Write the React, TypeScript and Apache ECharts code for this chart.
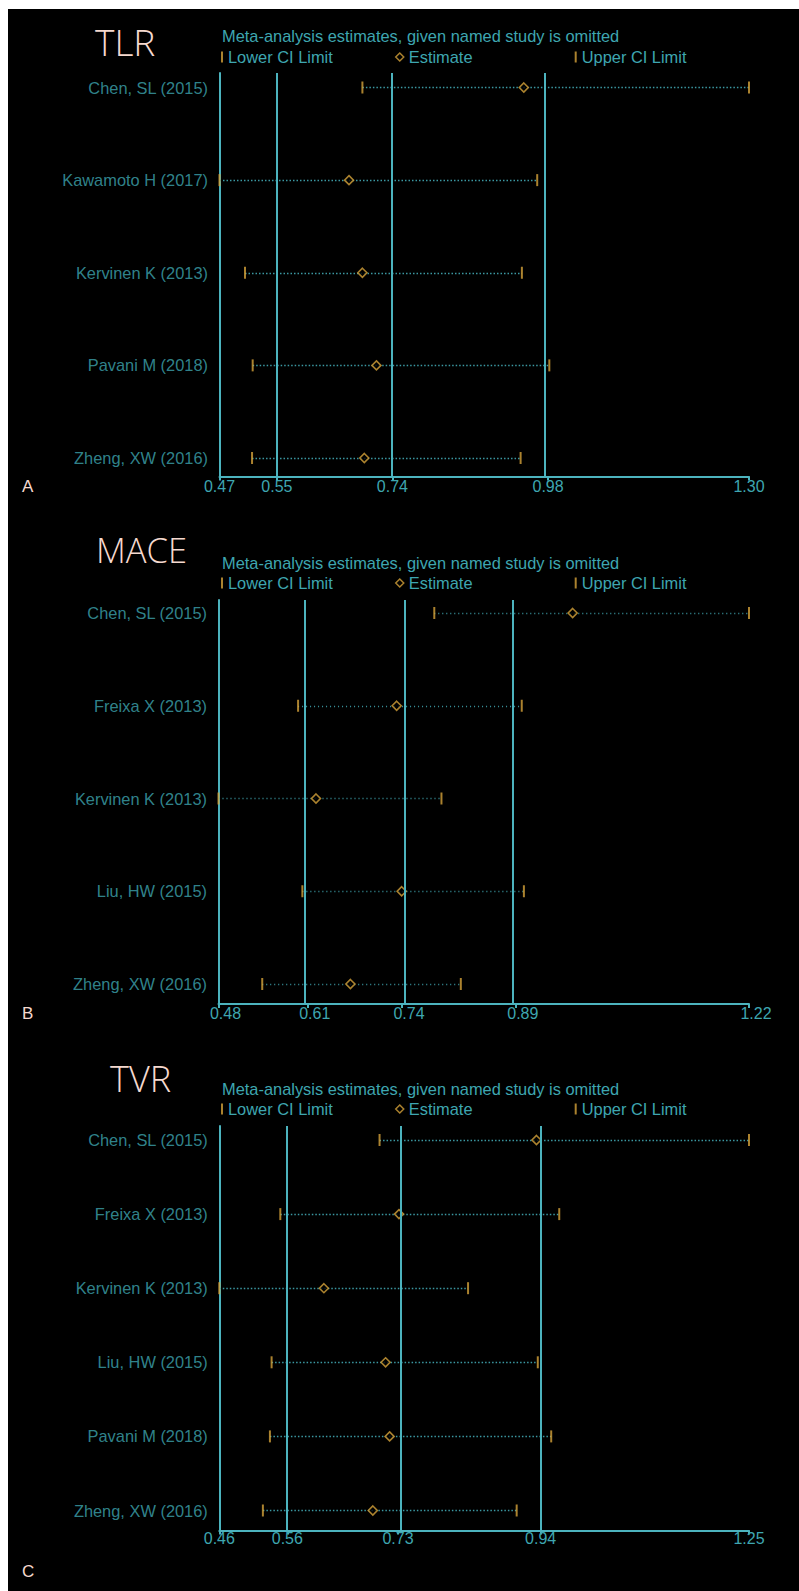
import React, { useEffect, useRef } from "react";
import * as echarts from "echarts";

// ---------------- data ----------------
const tlrStudies = ["Chen, SL (2015)", "Kawamoto H (2017)", "Kervinen K (2013)", "Pavani M (2018)", "Zheng, XW (2016)"];
const tlrLower = [0.694, 0.47, 0.51, 0.522, 0.521];
const tlrEstimate = [0.947, 0.673, 0.694, 0.716, 0.697];
const tlrUpper = [1.3, 0.968, 0.944, 0.987, 0.942];
const tlrOverall = [0.56, 0.741, 0.985]; // pooled lower CI, estimate, upper CI
const tlrRange = [0.47, 1.3];
const tlrTickValues = [0.47, 0.56, 0.741, 0.985, 1.3];
const tlrTickLabels = ["0.47", "0.55", "0.74", "0.98", "1.30"];

const maceStudies = ["Chen, SL (2015)", "Freixa X (2013)", "Kervinen K (2013)", "Liu, HW (2015)", "Zheng, XW (2016)"];
const maceLower = [0.781, 0.591, 0.48, 0.597, 0.541];
const maceEstimate = [0.974, 0.7285, 0.616, 0.7355, 0.664];
const maceUpper = [1.22, 0.903, 0.791, 0.906, 0.818];
const maceOverall = [0.6045, 0.736, 0.8947];
const maceRange = [0.48, 1.22];
const maceTickValues = [0.48, 0.6045, 0.736, 0.8947, 1.22];
const maceTickLabels = ["0.48", "0.61", "0.74", "0.89", "1.22"];

const tvrStudies = ["Chen, SL (2015)", "Freixa X (2013)", "Kervinen K (2013)", "Liu, HW (2015)", "Pavani M (2018)", "Zheng, XW (2016)"];
const tvrLower = [0.699, 0.551, 0.46, 0.538, 0.5355, 0.525];
const tvrEstimate = [0.933, 0.728, 0.616, 0.708, 0.714, 0.689];
const tvrUpper = [1.25, 0.967, 0.831, 0.935, 0.955, 0.9035];
const tvrOverall = [0.5614, 0.7265, 0.9393];
const tvrRange = [0.46, 1.25];
const tvrTickValues = [0.46, 0.5614, 0.7265, 0.9393, 1.25];
const tvrTickLabels = ["0.46", "0.56", "0.73", "0.94", "1.25"];

const subtitleText = "Meta-analysis estimates, given named study is omitted";
const legendNames = ["Lower CI Limit", "Estimate", "Upper CI Limit"];

// ---------------- style ----------------
const TEAL_TEXT = "#3ea6b0";
const TEAL_LINE = "#4cb3be";
const DOT_COLOR = "#3b98a2";
const YELLOW = "#d6a23a";
const PINK = "#f5d9cf";
const SANS = "'Liberation Sans', Arial, Helvetica, sans-serif";
const TITLE_FONT = "'Open Sans', 'Noto Sans', sans-serif";

const OX = 8;
const OY = 9;

const panels = [
  {
    title: "TLR", letter: "A", studies: tlrStudies, lower: tlrLower, est: tlrEstimate, upper: tlrUpper,
    overall: tlrOverall, range: tlrRange, ticks: tlrTickValues, tickLabels: tlrTickLabels,
    L: { left: 219.5, right: 749, top: 73, bottom: 476.5, row0: 87.5, rowN: 458, titleX: 95, titleCy: 41.5, titleSize: 37,
      subCy: 36.5, legendCy: 57, letterCy: 486, tickShift: 0, labelMargin: 1.5, dash: [1.5, 2] },
  },
  {
    title: "MACE", letter: "B", studies: maceStudies, lower: maceLower, est: maceEstimate, upper: maceUpper,
    overall: maceOverall, range: maceRange, ticks: maceTickValues, tickLabels: maceTickLabels,
    L: { left: 218.5, right: 749, top: 600, bottom: 1004, row0: 613, rowN: 984, titleX: 96, titleCy: 549.5, titleSize: 34.5,
      subCy: 562.7, legendCy: 583, letterCy: 1013, tickShift: 7, labelMargin: 1, dash: [1, 3] },
  },
  {
    title: "TVR", letter: "C", studies: tvrStudies, lower: tvrLower, est: tvrEstimate, upper: tvrUpper,
    overall: tvrOverall, range: tvrRange, ticks: tvrTickValues, tickLabels: tvrTickLabels,
    L: { left: 219.3, right: 749, top: 1126, bottom: 1530.5, row0: 1140, rowN: 1510.5, titleX: 110, titleCy: 1078.5, titleSize: 36,
      subCy: 1089, legendCy: 1109, letterCy: 1571, tickShift: 0, labelMargin: 0, dash: [1.5, 2] },
  },
];

function buildOption() {
  const grid: any[] = [];
  const xAxis: any[] = [];
  const yAxis: any[] = [];
  const series: any[] = [];
  const title: any[] = [];
  const legend: any[] = [];

  panels.forEach((p, i) => {
    const L = p.L;
    const n = p.studies.length;
    const step = (L.rowN - L.row0) / (n - 1);
    const yMin = -(L.row0 - L.top) / step;
    const yMax = n - 1 + (L.bottom - L.rowN) / step;

    grid.push({ left: L.left - OX, top: L.top - OY, width: L.right - L.left, height: L.bottom - L.top, containLabel: false });

    xAxis.push({
      type: "value",
      gridIndex: i,
      min: p.range[0],
      max: p.range[1],
      axisLine: { show: true, onZero: false, lineStyle: { color: TEAL_LINE, width: 2 } },
      axisTick: { show: true, customValues: p.ticks, length: 4, lineStyle: { color: TEAL_LINE, width: 2 } },
      axisLabel: {
        show: true,
        customValues: p.ticks,
        margin: L.labelMargin,
        color: TEAL_TEXT,
        fontSize: 16,
        fontFamily: SANS,
        padding: [0, 0, 0, L.tickShift * 2],
        formatter: (v: number) => {
          const k = p.ticks.findIndex((t) => Math.abs(t - v) < 1e-9);
          return k >= 0 ? p.tickLabels[k] : "";
        },
      },
      splitLine: { show: false },
    });

    yAxis.push({
      type: "value",
      gridIndex: i,
      inverse: true,
      min: yMin,
      max: yMax,
      axisLine: { show: true, onZero: false, lineStyle: { color: TEAL_LINE, width: 2 } },
      axisTick: { show: false },
      axisLabel: { show: false },
      splitLine: { show: false },
    });

    // study names + pooled reference lines
    series.push({
      type: "scatter",
      name: "study",
      xAxisIndex: i,
      yAxisIndex: i,
      silent: true,
      z: 1,
      symbolSize: 1,
      itemStyle: { color: "rgba(0,0,0,0)" },
      data: p.studies.map((s, k) => ({ name: s, value: [p.range[0], k] })),
      label: {
        show: true,
        position: "left",
        distance: 11,
        formatter: "{b}",
        color: TEAL_TEXT,
        fontSize: 16.4,
        fontFamily: SANS,
      },
      markLine: {
        silent: true,
        symbol: ["none", "none"],
        label: { show: false },
        lineStyle: { color: TEAL_LINE, width: 2, type: "solid" },
        data: p.overall.map((v) => ({ xAxis: v })),
      },
    });

    // CI dotted lines
    series.push({
      type: "lines",
      coordinateSystem: "cartesian2d",
      xAxisIndex: i,
      yAxisIndex: i,
      silent: true,
      z: 2,
      polyline: false,
      lineStyle: { color: DOT_COLOR, width: 1.3, type: L.dash, opacity: 1, curveness: 0 },
      data: p.lower.map((lo, k) => ({ coords: [[lo, k], [p.upper[k], k]] })),
    });

    series.push({
      type: "scatter",
      name: legendNames[0],
      xAxisIndex: i,
      yAxisIndex: i,
      silent: true,
      z: 3,
      symbol: "rect",
      symbolSize: [2, 12],
      itemStyle: { color: YELLOW },
      data: p.lower.map((v, k) => [v, k]),
    });
    series.push({
      type: "scatter",
      name: legendNames[2],
      xAxisIndex: i,
      yAxisIndex: i,
      silent: true,
      z: 3,
      symbol: "rect",
      symbolSize: [2, 12],
      itemStyle: { color: YELLOW },
      data: p.upper.map((v, k) => [v, k]),
    });
    series.push({
      type: "scatter",
      name: legendNames[1],
      xAxisIndex: i,
      yAxisIndex: i,
      silent: true,
      z: 4,
      symbol: "diamond",
      symbolSize: 9,
      itemStyle: { color: "#000", borderColor: YELLOW, borderWidth: 1.6 },
      data: p.est.map((v, k) => [v, k]),
    });

    title.push({
      text: p.title,
      left: L.titleX - OX,
      top: L.titleCy - L.titleSize / 2 - OY,
      padding: 0,
      textStyle: { color: PINK, fontFamily: TITLE_FONT, fontWeight: 300, fontSize: L.titleSize },
    });
    title.push({
      text: subtitleText,
      left: 222 - OX,
      top: L.subCy - 8.2 - OY,
      padding: 0,
      textStyle: { color: TEAL_TEXT, fontFamily: SANS, fontWeight: "normal", fontSize: 16.4 },
    });
    title.push({
      text: p.letter,
      left: 22 - OX,
      top: L.letterCy - 8.5 - OY,
      padding: 0,
      textStyle: { color: PINK, fontFamily: SANS, fontWeight: "normal", fontSize: 17 },
    });

    const common = {
      padding: 0,
      selectedMode: false,
      top: L.legendCy - 8 - OY,
      textStyle: { color: TEAL_TEXT, fontFamily: SANS, fontSize: 16.4 },
    };
    legend.push({
      ...common,
      left: 221 - OX,
      itemWidth: 2,
      itemHeight: 11,
      data: [{ name: legendNames[0], icon: "rect", itemStyle: { color: YELLOW } }],
    });
    legend.push({
      ...common,
      left: 395 - OX,
      itemWidth: 8,
      itemHeight: 8,
      data: [{ name: legendNames[1], icon: "diamond", itemStyle: { color: "#000", borderColor: YELLOW, borderWidth: 1.5 } }],
    });
    legend.push({
      ...common,
      left: 574.7 - OX,
      itemWidth: 2,
      itemHeight: 11,
      data: [{ name: legendNames[2], icon: "rect", itemStyle: { color: YELLOW } }],
    });
  });

  return {
    animation: false,
    backgroundColor: "#000",
    tooltip: { show: false },
    grid,
    xAxis,
    yAxis,
    series,
    title,
    legend,
  };
}

export default function App() {
  const ref = useRef<HTMLDivElement>(null);
  useEffect(() => {
    if (!ref.current) return;
    const chart = echarts.init(ref.current, undefined, { renderer: "svg", width: 799 - OX, height: 1591 - OY });
    chart.setOption(buildOption() as any);
    return () => chart.dispose();
  }, []);
  return (
    <div style={{ position: "absolute", left: 0, top: 0, width: 799, height: 1591, background: "#fff", overflow: "hidden" }}>
      <div ref={ref} style={{ position: "absolute", left: OX, top: OY, width: 799 - OX, height: 1591 - OY }} />
    </div>
  );
}
